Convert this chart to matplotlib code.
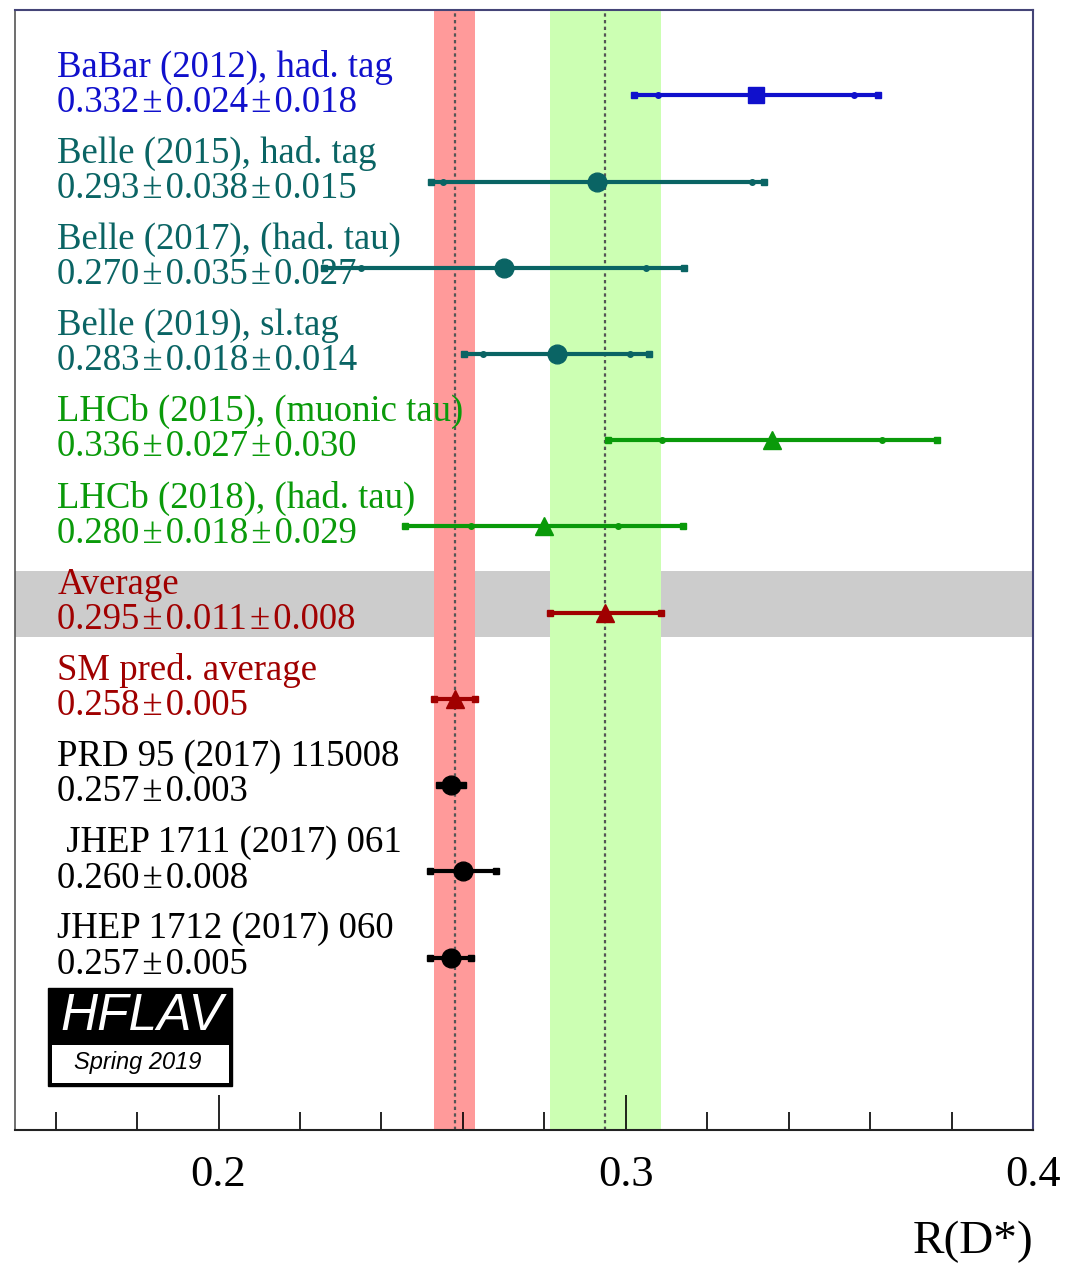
import numpy as np
import matplotlib.pyplot as plt
from matplotlib.patches import Rectangle

plt.rcParams["font.family"] = ["Liberation Serif", "DejaVu Serif"]

# measurements (top to bottom)
labels = [
    "BaBar (2012), had. tag",
    "Belle (2015), had. tag",
    "Belle (2017), (had. tau)",
    "Belle (2019), sl.tag",
    "LHCb (2015), (muonic tau)",
    "LHCb (2018), (had. tau)",
    "Average",
    "SM pred. average",
    "PRD 95 (2017) 115008",
    " JHEP 1711 (2017) 061",
    "JHEP 1712 (2017) 060",
]
values = [0.332, 0.293, 0.270, 0.283, 0.336, 0.280, 0.295, 0.258, 0.257, 0.260, 0.257]
stat = [0.024, 0.038, 0.035, 0.018, 0.027, 0.018, 0.011, 0.005, 0.003, 0.008, 0.005]
syst = [0.018, 0.015, 0.027, 0.014, 0.030, 0.029, 0.008, None, None, None, None]
colors = ["#1010cc", "#0a6464", "#0a6464", "#0a6464", "#0a9a0a", "#0a9a0a",
          "#a00000", "#a00000", "black", "black", "black"]
markers = ["s", "o", "o", "o", "^", "^", "^", "^", "o", "o", "o"]

avg = 0.295
avg_err = np.hypot(0.011, 0.008)
sm = 0.258
sm_err = 0.005

pm = "\u200a±\u200a"

fig = plt.figure(figsize=(10.8, 12.7), dpi=100)
ax = fig.add_axes([0.0139, 0.1102, 0.9426, 0.8819])
ax.set_xlim(0.15, 0.4)
ax.set_ylim(12.0, -0.99)

# bands
ax.axvspan(sm - sm_err, sm + sm_err, color="#ff9a9a", zorder=1, lw=0)
ax.axvspan(avg - avg_err, avg + avg_err, color="#ccffb3", zorder=1, lw=0)
ax.axhspan(5.52, 6.28, color="#cccccc", zorder=0.5, lw=0)
ax.axvline(sm, color="#555555", lw=1.6, dashes=(1.5, 1.5), zorder=2)
ax.axvline(avg, color="#555555", lw=1.6, dashes=(1.5, 1.5), zorder=2)

for i, (lab, v, s, sy, c, m) in enumerate(zip(labels, values, stat, syst, colors, markers)):
    if sy is None:
        tot = s
        val_txt = f"{v:.3f}{pm}{s:.3f}"
    else:
        tot = np.hypot(s, sy)
        val_txt = f"{v:.3f}{pm}{s:.3f}{pm}{sy:.3f}"
    ax.text(0.1604, i - 0.33, lab, color=c, fontsize=26.5, va="center", ha="left", zorder=3)
    ax.text(0.1604, i + 0.08, val_txt, color=c, fontsize=26.5, va="center", ha="left", zorder=3)
    ax.plot([v - tot, v + tot], [i, i], color=c, lw=3, zorder=4, solid_capstyle="butt")
    ax.plot([v - tot, v + tot], [i, i], ls="none", marker="s", ms=5, color=c, zorder=4)
    if sy is not None and i < 6:
        ax.plot([v - s, v + s], [i, i], ls="none", marker="o", ms=4, color=c, zorder=4)
    ms = 12 if m == "s" else 13.5
    ax.plot(v, i, marker=m, ms=ms, color=c, ls="none", zorder=5)

# axes styling
ax.set_yticks([])
ax.set_xticks([0.2, 0.3, 0.4])
ax.set_xticks(np.arange(0.16, 0.40, 0.02), minor=True)
ax.set_xticklabels(["0.2", "0.3", "0.4"])
ax.tick_params(axis="x", which="major", direction="in", length=25, width=1.2,
               labelsize=32, pad=18)
ax.tick_params(axis="x", which="minor", direction="in", length=13, width=1.2)
for side in ["top", "right"]:
    ax.spines[side].set_color("#444477")
    ax.spines[side].set_linewidth(1.5)
ax.spines["bottom"].set_color("#222222")
ax.spines["bottom"].set_linewidth(1.5)
ax.spines["left"].set_color("#555555")
ax.spines["left"].set_linewidth(1.2)

fig.text(0.9565, 0.022, "R(D*)", fontsize=34, ha="right", va="center")

# HFLAV logo
fig.patches.append(Rectangle((48 / 1080, 1 - 1086 / 1270), 184 / 1080, 98 / 1270,
                             transform=fig.transFigure, facecolor="black", edgecolor="black"))
fig.patches.append(Rectangle((52 / 1080, 1 - 1083 / 1270), 177 / 1080, 38 / 1270,
                             transform=fig.transFigure, facecolor="white", edgecolor="none"))
fig.text(142 / 1080, 1 - 1017 / 1270, "HFLAV", color="white", fontsize=37, style="italic",
         family="Liberation Sans", ha="center", va="center")
fig.text(138 / 1080, 1 - 1063 / 1270, "Spring 2019", color="black", fontsize=17, style="italic",
         family="Liberation Sans", ha="center", va="center")

fig.savefig("out.png", dpi=100)
